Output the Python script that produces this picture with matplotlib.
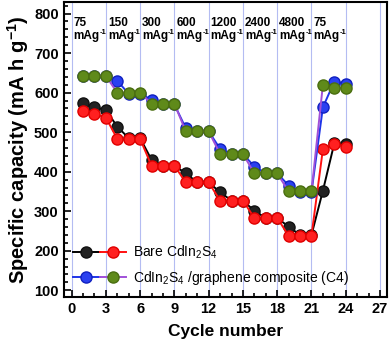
import matplotlib
matplotlib.use("Agg")
import matplotlib.pyplot as plt
from matplotlib.legend_handler import HandlerTuple
from matplotlib.ticker import MultipleLocator

cycles = list(range(1, 25))

# bare CdIn2S4, two runs
bare_black = [573, 563, 556, 514, 485, 485, 430, 415, 415, 396, 373, 373,
              348, 327, 327, 301, 283, 283, 261, 240, 240, 352, 472, 470]
bare_red = [554, 546, 537, 483, 483, 483, 415, 415, 415, 373, 373, 373,
            327, 327, 327, 283, 283, 283, 238, 238, 238, 457, 470, 463]

# CdIn2S4/graphene composite (C4), two runs
c4_blue = [642, 642, 642, 630, 597, 597, 582, 570, 570, 510, 502, 502,
           458, 445, 445, 413, 396, 396, 365, 348, 348, 563, 628, 623]
c4_green = [642, 642, 642, 600, 600, 600, 572, 572, 572, 502, 502, 502,
            445, 445, 445, 396, 396, 396, 350, 350, 350, 620, 612, 612]

rates = ["75", "150", "300", "600", "1200", "2400", "4800", "75"]

plt.rcParams['font.family'] = ['Liberation Sans', 'DejaVu Sans']
plt.rcParams['mathtext.fontset'] = 'custom'
plt.rcParams['mathtext.rm'] = 'Liberation Sans'
plt.rcParams['mathtext.bf'] = 'Liberation Sans:bold'
plt.rcParams['mathtext.default'] = 'regular'

fig = plt.figure(figsize=(3.9, 3.47), dpi=100)
ax = fig.add_axes([0.163, 0.144, 0.829, 0.850])

for gx in range(0, 28, 3):
    ax.axvline(gx, color='#b4bcf2', lw=0.8, zorder=0)

ms = 8
l_black, = ax.plot(cycles, bare_black, '-o', color='black', mfc='#222222',
                   mec='#111111', ms=ms, lw=1.4)
l_red, = ax.plot(cycles, bare_red, '-o', color='#ff1010', mfc='#ff2020',
                 mec='#e00000', ms=ms, lw=1.4)
l_blue, = ax.plot(cycles, c4_blue, '-o', color='#1f35e8', mfc='#2a40f0',
                  mec='#1020c0', ms=ms, lw=1.4)
l_green, = ax.plot(cycles, c4_green, '-o', color='#a050d8', mfc='#5f8a1a',
                   mec='#4a6e10', ms=ms, lw=1.4)

for i, r in enumerate(rates):
    ax.text(3 * i + 0.17, 777, r, fontsize=8.5, fontweight='bold',
            va='center')
    unit = ax.text(3 * i + 0.17, 744, 'mAg', fontsize=8.5, fontweight='bold',
                   va='center')
    ax.annotate('-1', xy=(1, 0.8), xycoords=unit, fontsize=5.5,
                fontweight='bold', va='center', ha='left')

ax.set_xlim(-0.7, 27.6)
ax.set_ylim(83, 829)
ax.xaxis.set_major_locator(MultipleLocator(3))
ax.xaxis.set_minor_locator(MultipleLocator(1))
ax.yaxis.set_major_locator(MultipleLocator(100))
ax.yaxis.set_minor_locator(MultipleLocator(20))
ax.tick_params(which='both', direction='in', width=1.2)
ax.tick_params(which='major', length=5, labelsize=10.5)
ax.tick_params(which='minor', length=3)
for lab in ax.get_xticklabels() + ax.get_yticklabels():
    lab.set_fontweight('bold')
for sp in ax.spines.values():
    sp.set_linewidth(1.5)

ax.set_xlabel('Cycle number', fontsize=12.5, fontweight='bold', labelpad=6)
ax.set_ylabel('Specific capacity (mA h g$\\mathbf{^{-1}}$)', fontsize=14.5,
              fontweight='bold', labelpad=2)

ax.legend([(l_black, l_red), (l_blue, l_green)],
          ['Bare CdIn$_2$S$_4$', 'CdIn$_2$S$_4$ /graphene composite (C4)'],
          handler_map={tuple: HandlerTuple(ndivide=None, pad=0.0)},
          loc='lower left', frameon=False, handlelength=3.8,
          borderaxespad=0.3, handletextpad=0.5, labelspacing=0.6,
          prop={'size': 10})

fig.savefig('out.png', dpi=100)
